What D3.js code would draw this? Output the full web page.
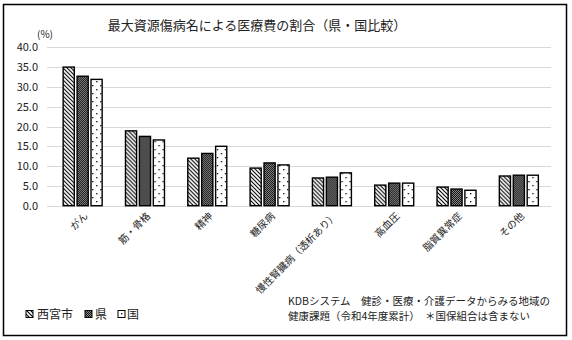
<!DOCTYPE html>
<html><head><meta charset="utf-8">
<script src="https://cdn.jsdelivr.net/npm/d3@7"></script>
<style>
body{margin:0;background:#fff;}
text{font-family:"Noto Sans CJK JP","Noto Sans",sans-serif;}
</style></head>
<body><svg id="c" width="572" height="340"></svg>
<script>
const categories = ["がん","筋・骨格","精神","糖尿病","慢性腎臓病（透析あり）","高血圧","脂質異常症","その他"];
const seriesNames = ["西宮市","県","国"];
const nishinomiya = [35.0,18.9,12.0,9.5,7.0,5.2,4.7,7.5];
const ken = [32.7,17.5,13.2,10.8,7.2,5.7,4.2,7.7];
const kuni = [31.9,16.6,15.0,10.3,8.3,5.7,3.9,7.7];
const yTicks = [0,5,10,15,20,25,30,35,40];
const title = "最大資源傷病名による医療費の割合（県・国比較）";
const unitLabel = "(%)";
const sourceLines = ["KDBシステム　健診・医療・介護データからみる地域の","健康課題（令和4年度累計）　＊国保組合は含まない"];

const svg = d3.select("#c");
const defs = svg.append("defs");
// patterns
const p1 = defs.append("pattern").attr("id","pDiag").attr("patternUnits","userSpaceOnUse").attr("width",4).attr("height",4);
p1.append("rect").attr("width",4).attr("height",4).attr("fill","#fff");
p1.append("path").attr("d","M-1,-1 L5,5 M-1,3 L1,5 M3,-1 L5,1").attr("stroke","#000").attr("stroke-width",1.1);
const p2 = defs.append("pattern").attr("id","pCheck").attr("patternUnits","userSpaceOnUse").attr("width",2).attr("height",2);
p2.append("rect").attr("width",2).attr("height",2).attr("fill","#8a8a8a");
p2.append("rect").attr("x",0).attr("y",0).attr("width",1).attr("height",1).attr("fill","#111");
p2.append("rect").attr("x",1).attr("y",1).attr("width",1).attr("height",1).attr("fill","#111");
const p3 = defs.append("pattern").attr("id","pDot").attr("patternUnits","userSpaceOnUse").attr("width",8).attr("height",8);
p3.append("rect").attr("width",8).attr("height",8).attr("fill","#fff");
p3.append("rect").attr("x",1).attr("y",1).attr("width",1.3).attr("height",1.3).attr("fill","#000");
p3.append("rect").attr("x",5).attr("y",5).attr("width",1.3).attr("height",1.3).attr("fill","#000");
const fills = ["url(#pDiag)","url(#pCheck)","url(#pDot)"];

// border
svg.append("rect").attr("x",3.5).attr("y",4.5).attr("width",563).attr("height",331)
  .attr("fill","#fff").attr("stroke","#000").attr("stroke-width",1.5);

svg.append("text").attr("x",257).attr("y",30).attr("text-anchor","middle")
  .attr("font-size",13).attr("fill","#222").text(title);

const y = d3.scaleLinear().domain([0,40]).range([205.7,47.3]);
const x = d3.scaleBand().domain(categories).range([51.5,550]).padding(0);
const groupW = 39;
const xs = d3.scaleBand().domain(seriesNames).range([0,groupW]).paddingInner(0.2);

// gridlines
svg.append("g").selectAll("line").data(yTicks).join("line")
  .attr("x1",47).attr("x2",551).attr("y1",d=>Math.round(y(d))+0.5).attr("y2",d=>Math.round(y(d))+0.5)
  .attr("stroke","#d9d9d9").attr("stroke-width",1);

// y axis labels
const yAxis = d3.axisLeft(y).tickValues(yTicks).tickFormat(d3.format(".1f")).tickSize(0).tickPadding(0);
const ya = svg.append("g").attr("transform","translate(38,0)").call(yAxis);
ya.select(".domain").remove();
ya.selectAll("text").attr("font-size",11).attr("fill","#222").attr("font-family","'Liberation Sans',sans-serif");

svg.append("text").attr("x",37).attr("y",38).attr("font-size",10).attr("fill","#222").text(unitLabel);

// bars
const data = [nishinomiya, ken, kuni];
const groups = svg.append("g").selectAll("g").data(categories).join("g")
  .attr("transform",d=>`translate(${x(d)+x.bandwidth()/2-groupW/2},0)`);
groups.selectAll("rect").data((d,i)=>seriesNames.map((s,j)=>({s,j,v:data[j][i]}))).join("rect")
  .attr("x",d=>xs(d.s)).attr("width",xs.bandwidth())
  .attr("y",d=>y(d.v)).attr("height",d=>y(0)-y(d.v))
  .attr("fill",d=>fills[d.j]).attr("stroke","#000").attr("stroke-width",1.4);

// x labels rotated
const xAxis = d3.axisBottom(x).tickSize(0).tickPadding(0);
const xa = svg.append("g").attr("transform",`translate(0,${y(0)})`).call(xAxis);
xa.select(".domain").remove();
xa.selectAll("text").attr("font-size",10).attr("fill","#222")
  .attr("text-anchor","end").attr("dy",0)
  .attr("transform","translate(6,11) rotate(-45)");

// legend
const leg = svg.append("g");
const legX = [26,85,118];
const legTxtX = [37,95,127];
seriesNames.forEach((s,j)=>{
  leg.append("rect").attr("x",legX[j]).attr("y",310.5).attr("width",7).attr("height",7)
    .attr("fill",fills[j]).attr("stroke","#000").attr("stroke-width",1);
  leg.append("text").attr("x",legTxtX[j]).attr("y",319).attr("font-size",12).attr("fill","#222").text(s);
});

// source
svg.append("g").selectAll("text").data(sourceLines).join("text")
  .attr("x",288).attr("y",(d,i)=>305+i*15).attr("font-size",10.5).attr("fill","#222").text(d=>d);
</script></body></html>
